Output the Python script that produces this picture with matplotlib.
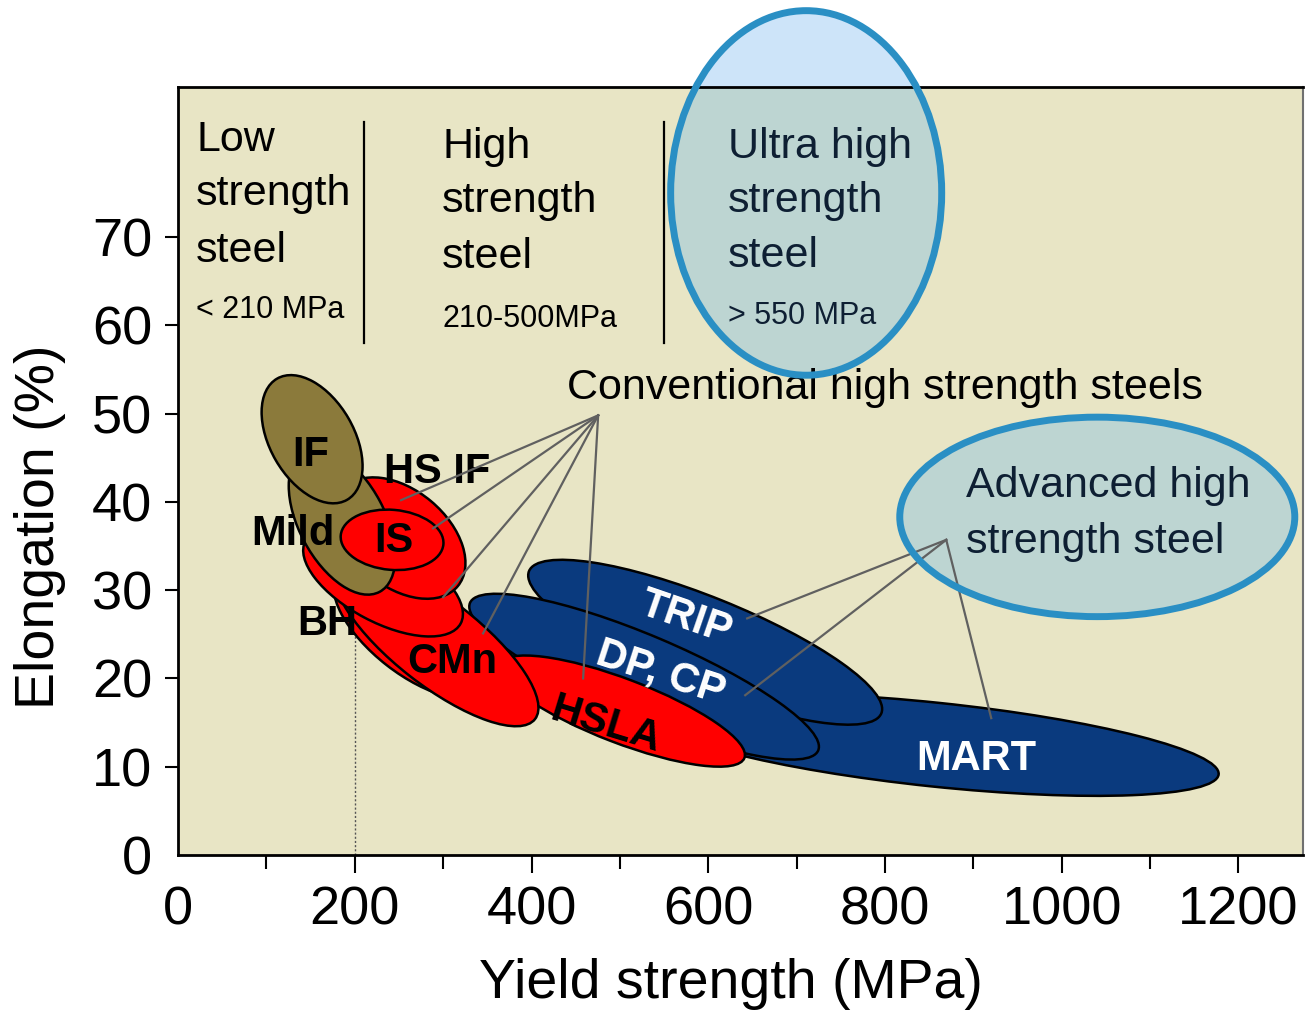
import matplotlib
matplotlib.use('Agg')
import matplotlib.pyplot as plt
from matplotlib.patches import Ellipse
from matplotlib.transforms import Affine2D

plt.rcParams['font.family'] = ['Liberation Sans', 'DejaVu Sans']

# ---------------- data ----------------
# steel-grade regions, drawn from bottom to top
steel_names  = ['MART', 'TRIP', 'DP, CP', 'HSLA', 'CMn base', 'CMn', 'BH', 'HS IF', 'Mild', 'IF', 'IS']
steel_x      = [856.8, 596.5, 527.4, 502.5, 265.9, 292.4, 232.0, 251.3, 185.6, 151.7, 242.2]   # centre, MPa
steel_y      = [12.5, 24.1, 20.2, 16.3, 25.35, 24.1, 30.9, 35.9, 37.8, 47.1, 35.7]            # centre, %
steel_major  = [645, 430, 428, 296.5, 215, 283, 199, 170, 181, 158.5, 116.6]                  # MPa-equivalent
steel_minor  = [95, 102, 93, 72.4, 97.3, 97.3, 90.5, 109, 97, 95, 68]
steel_angle  = [-6, -22, -23, -21, -38, -38, -28, -40, 118, 120, -5]
steel_group  = ['adv', 'adv', 'adv', 'conv', 'conv', 'conv', 'conv', 'conv', 'low', 'low', 'conv']

# labels of the regions
label_text  = ['IF', 'HS IF', 'Mild', 'IS', 'BH', 'CMn', 'HSLA', 'TRIP', 'DP, CP', 'MART']
label_x     = [150.5, 293.2, 130.2, 244.5, 168.6, 310.1, 483.3, 575.0, 545.6, 903.2]
label_y     = [44.1, 42.1, 35.1, 34.3, 24.9, 20.6, 14.7, 26.8, 20.6, 9.6]
label_rot   = [0, 0, 0, 0, 0, 0, -17, -19, -18, 0]
label_white = [False, False, False, False, False, False, False, True, True, True]

# strength classes
class_bounds = [210, 550]
class_line_y = [58, 83]
class_x      = [20.4, 298.8, 622.5]
class_lines  = [['Low', 'strength', 'steel', '< 210 MPa'],
                ['High', 'strength', 'steel', '210-500MPa'],
                ['Ultra high', 'strength', 'steel', '> 550 MPa']]
class_base   = [[79.8, 73.6, 67.2, 60.8],
                [79.0, 72.8, 66.5, 59.8],
                [79.0, 72.8, 66.6, 60.2]]

# highlight ellipses (UHSS, AHSS)
hl_x = [710.8, 1040.2]
hl_y = [75.0, 38.3]
hl_w = [306.7, 447]
hl_h = [413, 226]

# leader lines
conv_apex = (475.4, 49.8)
conv_ends_x = [252.4, 288.6, 300.0, 345.2, 458.4]
conv_ends_y = [40.2, 37.0, 29.2, 25.1, 20.0]
adv_apex = (869.3, 35.7)
adv_ends_x = [644.0, 641.8, 920.2]
adv_ends_y = [26.8, 18.1, 15.5]

x_ticks = [0, 200, 400, 600, 800, 1000, 1200]
x_minor = [100, 300, 500, 700, 900, 1100]
y_ticks = [0, 10, 20, 30, 40, 50, 60, 70]

# ---------------- style ----------------
BG = '#E8E5C5'
COLORS = {'low': '#8B7A3B', 'conv': '#FF0000', 'adv': '#0A3A7E'}
HL_EDGE = '#2A8FC4'
HL_IN = '#BDD5D2'
HL_OUT = '#CDE4F9'
DARKTXT = '#0E1F33'

fig = plt.figure(figsize=(13.11, 10.13), dpi=100)
ax = fig.add_axes([0.1358, 0.1560, 0.8581, 0.7581])
ax.set_facecolor(BG)
ax.set_xlim(0, 1273)
ax.set_ylim(0, 87)

# space where 1 x-unit (MPa) and 0.1 % look the same on screen
shape_tr = Affine2D().scale(1.0, 0.1) + ax.transData

for i in range(len(steel_names)):
    ax.add_patch(Ellipse((steel_x[i], steel_y[i] * 10), steel_major[i], steel_minor[i],
                         angle=steel_angle[i], facecolor=COLORS[steel_group[i]],
                         edgecolor='black', lw=1.8, transform=shape_tr, zorder=2 + 0.01 * i))

for t, x, y, r, w in zip(label_text, label_x, label_y, label_rot, label_white):
    if r == 0:
        ax.text(x, y, t, ha='center', va='baseline', fontsize=30, fontweight='bold',
                color='white' if w else 'black', zorder=3)
    else:
        ax.text(x, y, t, ha='center', va='center', rotation=r, rotation_mode='anchor',
                fontsize=30, fontweight='bold', color='white' if w else 'black', zorder=3)

# BH dotted line
ax.plot([200, 200], [0, 25], ls=(0, (1.5, 1.5)), color='#555555', lw=1.0, zorder=1.5)

# class separators
for b in class_bounds:
    ax.plot([b, b], class_line_y, color='black', lw=1.6, zorder=3)

# highlight fills
for i in range(len(hl_x)):
    ax.add_patch(Ellipse((hl_x[i], hl_y[i] * 10), hl_w[i], hl_h[i], transform=shape_tr,
                         facecolor=HL_OUT, edgecolor='none', clip_on=False, zorder=3.9))
    ax.add_patch(Ellipse((hl_x[i], hl_y[i] * 10), hl_w[i], hl_h[i], transform=shape_tr,
                         facecolor=HL_IN, edgecolor='none', zorder=4))

# class texts
sizes = [31, 31, 31, 22]
for ci in range(3):
    col = DARKTXT if ci == 2 else 'black'
    for li, s in enumerate(class_lines[ci]):
        ax.text(class_x[ci], class_base[ci][li], s, ha='left', va='baseline',
                fontsize=sizes[li], color=col, zorder=5)

ax.text(440.3, 51.6, 'Conventional high strength steels', ha='left', va='baseline',
        fontsize=31, color='black', zorder=5)
ax.text(891.9, 40.5, 'Advanced high', ha='left', va='baseline', fontsize=31, color=DARKTXT, zorder=5)
ax.text(891.9, 34.2, 'strength steel', ha='left', va='baseline', fontsize=31, color=DARKTXT, zorder=5)

# leader lines
for ex, ey in zip(conv_ends_x, conv_ends_y):
    ax.plot([conv_apex[0], ex], [conv_apex[1], ey], color='#606060', lw=1.6, zorder=5.5)
for ex, ey in zip(adv_ends_x, adv_ends_y):
    ax.plot([adv_apex[0], ex], [adv_apex[1], ey], color='#606060', lw=1.6, zorder=5.5)

# highlight outlines
for i in range(len(hl_x)):
    ax.add_patch(Ellipse((hl_x[i], hl_y[i] * 10), hl_w[i], hl_h[i], transform=shape_tr,
                         facecolor='none', edgecolor=HL_EDGE, lw=5, clip_on=False, zorder=6))

# axes styling
for side in ['left', 'bottom', 'top']:
    ax.spines[side].set_color('black')
    ax.spines[side].set_linewidth(2.0)
    ax.spines[side].set_zorder(5.8)
ax.spines['right'].set_color('#707070')
ax.spines['right'].set_linewidth(1.5)

ax.set_xticks(x_ticks)
ax.set_xticks(x_minor, minor=True)
ax.set_yticks(y_ticks)
ax.set_xticklabels([str(v) for v in x_ticks])
ax.set_yticklabels([str(v) for v in y_ticks])
ax.tick_params(axis='x', which='major', direction='out', length=13, width=1.5, pad=9, labelsize=39)
ax.tick_params(axis='x', which='minor', direction='out', length=10, width=1.5)
ax.tick_params(axis='y', which='major', direction='out', length=9.5, width=1.5, pad=9, labelsize=39)
ax.xaxis.get_major_ticks()[0].tick1line.set_visible(False)
ax.yaxis.get_major_ticks()[0].tick1line.set_visible(False)

ax.set_xlabel('Yield strength (MPa)', fontsize=40)
ax.set_ylabel('Elongation (%)', fontsize=40)
ax.xaxis.set_label_coords(0.4916, -0.134)
ax.yaxis.set_label_coords(-0.100, 0.427)

fig.savefig('out.png', dpi=100)
